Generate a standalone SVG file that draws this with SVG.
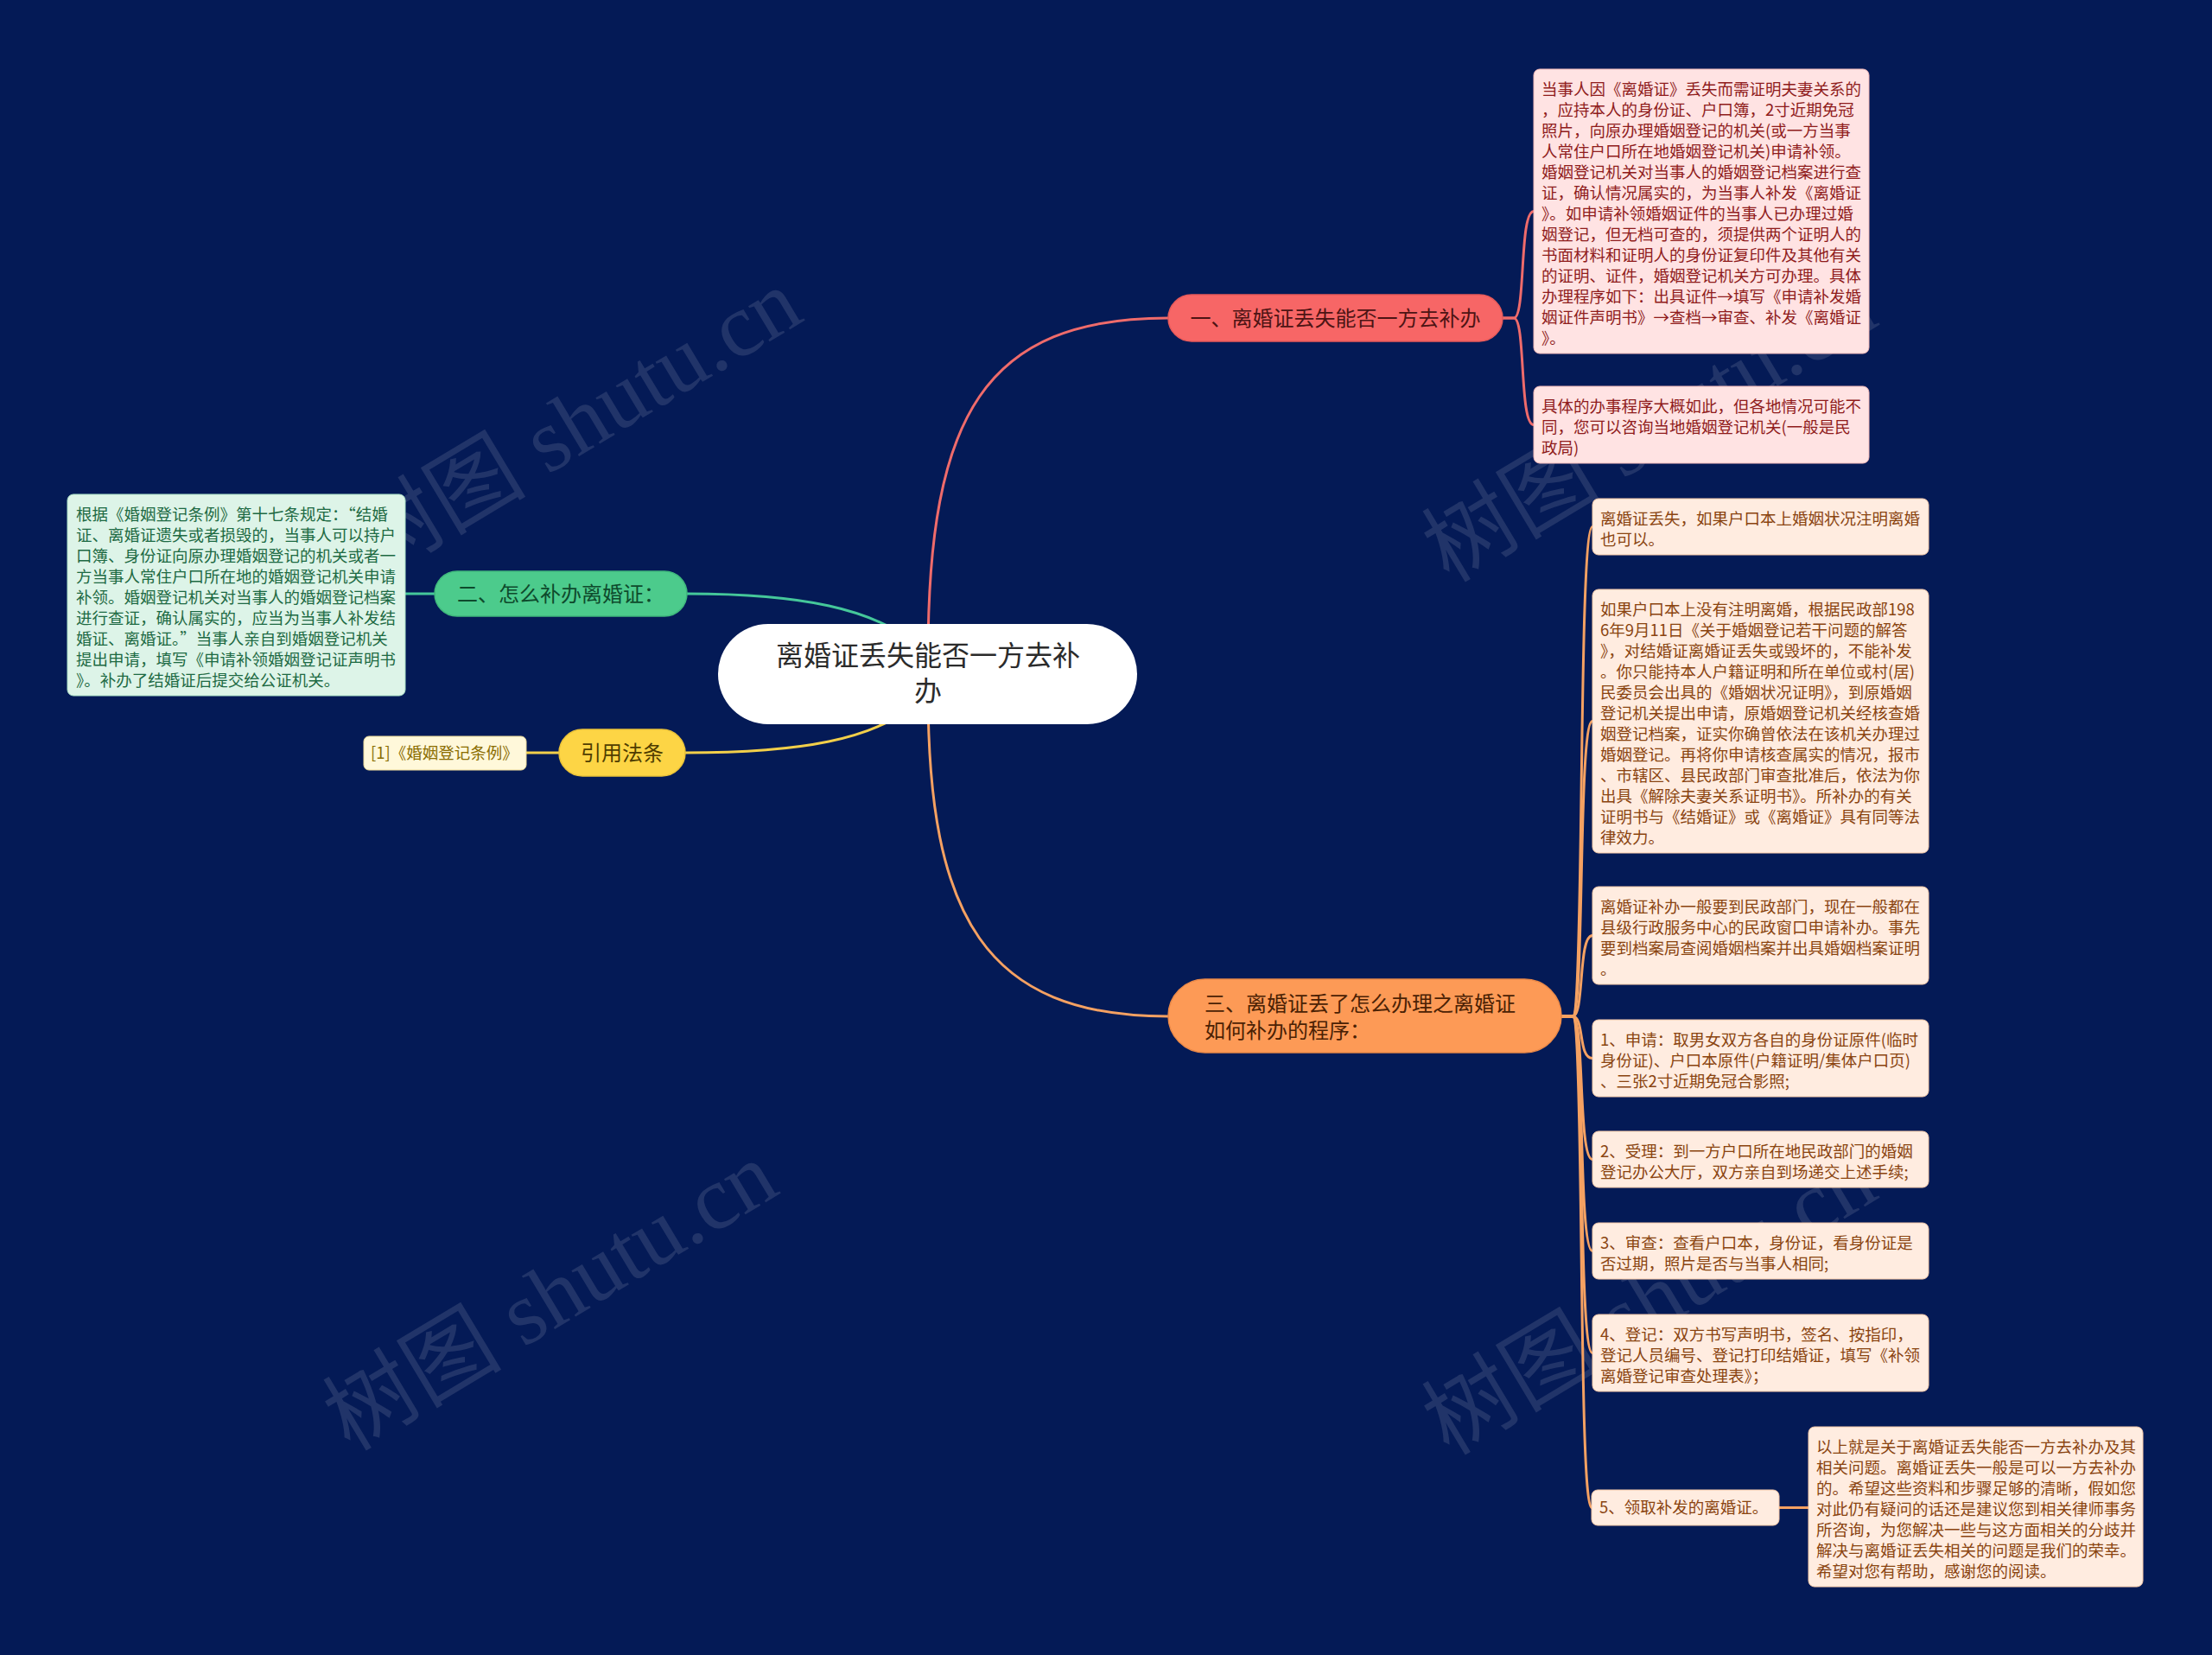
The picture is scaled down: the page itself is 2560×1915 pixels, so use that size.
<svg xmlns="http://www.w3.org/2000/svg" width="2560" height="1915" viewBox="0 0 2560 1915">
<style>
text{font-family:"Noto Sans CJK SC","Noto Sans",sans-serif}
.wm{font-family:"Liberation Serif","Noto Sans CJK SC",serif;font-size:104px;fill:#c9ccd6;fill-opacity:0.15;text-anchor:middle}
.leaf{font-size:18.5px}
.lr rect{fill:#ffe3e3;stroke:#f3b9b9;stroke-width:1}
.lr text{fill:#8f1c1c}
.lg rect{fill:#ddf4e8;stroke:#a9e0c4;stroke-width:1}
.lg text{fill:#1d6a43}
.lo rect{fill:#ffece0;stroke:#f6c9a8;stroke-width:1}
.lo text{fill:#8a4410}
.ly rect{fill:#fff8da;stroke:#efdc9a;stroke-width:1}
.ly text{fill:#8a6d00}
.br{font-size:24px}
.c{fill:none;stroke-width:3}
</style>
<rect width="2560" height="1915" fill="#041a56"/>
<g id="watermarks">
<text class="wm" transform="translate(683,520) rotate(-31)">树图 shutu.cn</text>
<text class="wm" transform="translate(1927,525) rotate(-31)">树图 shutu.cn</text>
<text class="wm" transform="translate(655,1530) rotate(-31)">树图 shutu.cn</text>
<text class="wm" transform="translate(1927,1535) rotate(-31)">树图 shutu.cn</text>
</g>
<g id="connectors">
<path class="c" stroke="#ef6b6b" d="M1074 760 C1074 480 1140 368 1352 368"/>
<path class="c" stroke="#f5a162" d="M1074 800 C1074 1060 1140 1176 1352 1176"/>
<path class="c" stroke="#45c79a" d="M795 687 C930 687 1010 705 1060 745"/>
<path class="c" stroke="#f2cf4a" d="M793 871 C930 871 1010 855 1060 815"/>
<path class="c" stroke="#45c79a" d="M503 687 H469"/>
<path class="c" stroke="#f2cf4a" d="M647 871 H609"/>
<path class="c" stroke="#ef6b6b" d="M1739 368 H1752 C1766 368 1758 244.5 1775 244.5"/>
<path class="c" stroke="#ef6b6b" d="M1739 368 H1752 C1766 368 1758 491.5 1775 491.5"/>
<g stroke="#f5a162">
<path class="c" d="M1807 1176 H1820 C1834 1176 1826 609.5 1843 609.5"/>
<path class="c" d="M1807 1176 H1820 C1834 1176 1826 834.5 1843 834.5"/>
<path class="c" d="M1807 1176 H1820 C1834 1176 1826 1082.5 1843 1082.5"/>
<path class="c" d="M1807 1176 H1820 C1834 1176 1826 1224.5 1843 1224.5"/>
<path class="c" d="M1807 1176 H1820 C1834 1176 1826 1341.5 1843 1341.5"/>
<path class="c" d="M1807 1176 H1820 C1834 1176 1826 1447.5 1843 1447.5"/>
<path class="c" d="M1807 1176 H1820 C1834 1176 1826 1565.5 1843 1565.5"/>
<path class="c" d="M1807 1176 H1820 C1834 1176 1826 1744.5 1842 1744.5"/>
<path class="c" d="M2059 1744.5 H2093"/>
</g>
</g>
<g id="center">
<rect x="831" y="722" width="485" height="116" rx="58" fill="#ffffff"/>
<text x="1074" y="770" font-size="32" fill="#2b2b2b" text-anchor="middle">离婚证丢失能否一方去补<tspan x="1074" y="811">办</tspan></text>
</g>
<g id="branch1">
<rect x="1352" y="341" width="387" height="54" rx="27" fill="#f76666" stroke="#e75a5a" stroke-width="1.5"/>
<text class="br" x="1545.5" y="377" fill="#4d1414" text-anchor="middle">一、离婚证丢失能否一方去补办</text>
</g>
<g id="branch2">
<rect x="503" y="661" width="292" height="52" rx="26" fill="#4ccb8c" stroke="#3fb87c" stroke-width="1.5"/>
<text class="br" x="649" y="696" fill="#0e4a2c" text-anchor="middle">二、怎么补办离婚证：</text>
</g>
<g id="branch-ref">
<rect x="647" y="844" width="146" height="54" rx="27" fill="#fdd545" stroke="#eac238" stroke-width="1.5"/>
<text class="br" x="720" y="880" fill="#4f3d00" text-anchor="middle">引用法条</text>
</g>
<g id="branch3">
<rect x="1352" y="1133" width="455" height="85" rx="42.5" fill="#fd9a56" stroke="#ec8a48" stroke-width="1.5"/>
<text class="br" x="1394" y="1170" fill="#4a2104">三、离婚证丢了怎么办理之离婚证<tspan x="1394" y="1201">如何补办的程序：</tspan></text>
</g>
<g id="leaf-r1" class="lr">
<rect x="1775" y="80" width="388" height="329" rx="7"/>
<text class="leaf" x="1784" y="110"><tspan x="1784" y="110">当事人因《离婚证》丢失而需证明夫妻关系的</tspan><tspan x="1784" dy="24">，应持本人的身份证、户口簿，2寸近期免冠</tspan><tspan x="1784" dy="24">照片，向原办理婚姻登记的机关(或一方当事</tspan><tspan x="1784" dy="24">人常住户口所在地婚姻登记机关)申请补领。</tspan><tspan x="1784" dy="24">婚姻登记机关对当事人的婚姻登记档案进行查</tspan><tspan x="1784" dy="24">证，确认情况属实的，为当事人补发《离婚证</tspan><tspan x="1784" dy="24">》。如申请补领婚姻证件的当事人已办理过婚</tspan><tspan x="1784" dy="24">姻登记，但无档可查的，须提供两个证明人的</tspan><tspan x="1784" dy="24">书面材料和证明人的身份证复印件及其他有关</tspan><tspan x="1784" dy="24">的证明、证件，婚姻登记机关方可办理。具体</tspan><tspan x="1784" dy="24">办理程序如下：出具证件→填写《申请补发婚</tspan><tspan x="1784" dy="24">姻证件声明书》→查档→审查、补发《离婚证</tspan><tspan x="1784" dy="24">》。</tspan></text>
</g>
<g id="leaf-r2" class="lr">
<rect x="1775" y="447" width="388" height="89" rx="7"/>
<text class="leaf" x="1784" y="477"><tspan x="1784" y="477">具体的办事程序大概如此，但各地情况可能不</tspan><tspan x="1784" dy="24">同，您可以咨询当地婚姻登记机关(一般是民</tspan><tspan x="1784" dy="24">政局)</tspan></text>
</g>
<g id="leaf-g1" class="lg">
<rect x="78" y="572" width="391" height="233" rx="7"/>
<text class="leaf" x="88" y="602"><tspan x="88" y="602">根据《婚姻登记条例》第十七条规定：“结婚</tspan><tspan x="88" dy="24">证、离婚证遗失或者损毁的，当事人可以持户</tspan><tspan x="88" dy="24">口簿、身份证向原办理婚姻登记的机关或者一</tspan><tspan x="88" dy="24">方当事人常住户口所在地的婚姻登记机关申请</tspan><tspan x="88" dy="24">补领。婚姻登记机关对当事人的婚姻登记档案</tspan><tspan x="88" dy="24">进行查证，确认属实的，应当为当事人补发结</tspan><tspan x="88" dy="24">婚证、离婚证。”当事人亲自到婚姻登记机关</tspan><tspan x="88" dy="24">提出申请，填写《申请补领婚姻登记证声明书</tspan><tspan x="88" dy="24">》。补办了结婚证后提交给公证机关。</tspan></text>
</g>
<g id="leaf-y1" class="ly">
<rect x="421" y="852" width="188" height="39" rx="6"/>
<text class="leaf" x="429" y="878">[1]《婚姻登记条例》</text>
</g>
<g id="leaf-oA" class="lo">
<rect x="1843" y="577" width="389" height="65" rx="7"/>
<text class="leaf" x="1852" y="607"><tspan x="1852" y="607">离婚证丢失，如果户口本上婚姻状况注明离婚</tspan><tspan x="1852" dy="24">也可以。</tspan></text>
</g>
<g id="leaf-oB" class="lo">
<rect x="1843" y="682" width="389" height="305" rx="7"/>
<text class="leaf" x="1852" y="712"><tspan x="1852" y="712">如果户口本上没有注明离婚，根据民政部198</tspan><tspan x="1852" dy="24">6年9月11日《关于婚姻登记若干问题的解答</tspan><tspan x="1852" dy="24">》，对结婚证离婚证丢失或毁坏的，不能补发</tspan><tspan x="1852" dy="24">。你只能持本人户籍证明和所在单位或村(居)</tspan><tspan x="1852" dy="24">民委员会出具的《婚姻状况证明》，到原婚姻</tspan><tspan x="1852" dy="24">登记机关提出申请，原婚姻登记机关经核查婚</tspan><tspan x="1852" dy="24">姻登记档案，证实你确曾依法在该机关办理过</tspan><tspan x="1852" dy="24">婚姻登记。再将你申请核查属实的情况，报市</tspan><tspan x="1852" dy="24">、市辖区、县民政部门审查批准后，依法为你</tspan><tspan x="1852" dy="24">出具《解除夫妻关系证明书》。所补办的有关</tspan><tspan x="1852" dy="24">证明书与《结婚证》或《离婚证》具有同等法</tspan><tspan x="1852" dy="24">律效力。</tspan></text>
</g>
<g id="leaf-oC" class="lo">
<rect x="1843" y="1026" width="389" height="113" rx="7"/>
<text class="leaf" x="1852" y="1056"><tspan x="1852" y="1056">离婚证补办一般要到民政部门，现在一般都在</tspan><tspan x="1852" dy="24">县级行政服务中心的民政窗口申请补办。事先</tspan><tspan x="1852" dy="24">要到档案局查阅婚姻档案并出具婚姻档案证明</tspan><tspan x="1852" dy="24">。</tspan></text>
</g>
<g id="leaf-oD" class="lo">
<rect x="1843" y="1180" width="389" height="89" rx="7"/>
<text class="leaf" x="1852" y="1210"><tspan x="1852" y="1210">1、申请：取男女双方各自的身份证原件(临时</tspan><tspan x="1852" dy="24">身份证)、户口本原件(户籍证明/集体户口页)</tspan><tspan x="1852" dy="24">、三张2寸近期免冠合影照;</tspan></text>
</g>
<g id="leaf-oE" class="lo">
<rect x="1843" y="1309" width="389" height="65" rx="7"/>
<text class="leaf" x="1852" y="1339"><tspan x="1852" y="1339">2、受理：到一方户口所在地民政部门的婚姻</tspan><tspan x="1852" dy="24">登记办公大厅，双方亲自到场递交上述手续;</tspan></text>
</g>
<g id="leaf-oF" class="lo">
<rect x="1843" y="1415" width="389" height="65" rx="7"/>
<text class="leaf" x="1852" y="1445"><tspan x="1852" y="1445">3、审查：查看户口本，身份证，看身份证是</tspan><tspan x="1852" dy="24">否过期，照片是否与当事人相同;</tspan></text>
</g>
<g id="leaf-oG" class="lo">
<rect x="1843" y="1521" width="389" height="89" rx="7"/>
<text class="leaf" x="1852" y="1551"><tspan x="1852" y="1551">4、登记：双方书写声明书，签名、按指印，</tspan><tspan x="1852" dy="24">登记人员编号、登记打印结婚证，填写《补领</tspan><tspan x="1852" dy="24">离婚登记审查处理表》；</tspan></text>
</g>
<g id="leaf-o5" class="lo">
<rect x="1842" y="1724" width="217" height="41" rx="7"/>
<text class="leaf" x="1851" y="1751">5、领取补发的离婚证。</text>
</g>
<g id="leaf-oFinal" class="lo">
<rect x="2093" y="1651" width="387" height="185" rx="7"/>
<text class="leaf" x="2102" y="1681"><tspan x="2102" y="1681">以上就是关于离婚证丢失能否一方去补办及其</tspan><tspan x="2102" dy="24">相关问题。离婚证丢失一般是可以一方去补办</tspan><tspan x="2102" dy="24">的。希望这些资料和步骤足够的清晰，假如您</tspan><tspan x="2102" dy="24">对此仍有疑问的话还是建议您到相关律师事务</tspan><tspan x="2102" dy="24">所咨询，为您解决一些与这方面相关的分歧并</tspan><tspan x="2102" dy="24">解决与离婚证丢失相关的问题是我们的荣幸。</tspan><tspan x="2102" dy="24">希望对您有帮助，感谢您的阅读。</tspan></text>
</g>
</svg>
